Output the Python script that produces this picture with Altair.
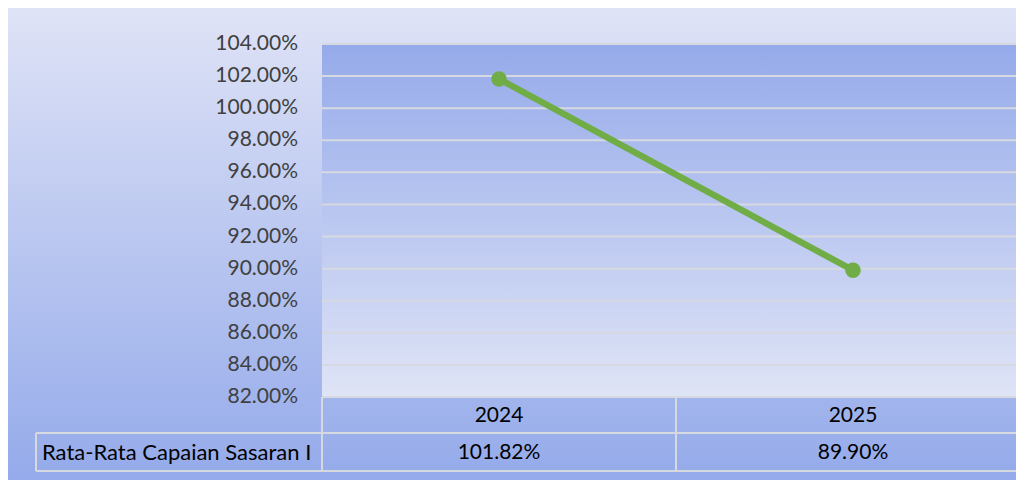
import altair as alt
import pandas as pd

# ---- data ----
years = ["2024", "2025"]
values = [1.0182, 0.8990]
series_name = "Rata-Rata Capaian Sasaran I"
y_ticks = [0.82, 0.84, 0.86, 0.88, 0.90, 0.92, 0.94, 0.96, 0.98, 1.00, 1.02, 1.04]

df = pd.DataFrame({"year": years, "value": values})
grid_df = pd.DataFrame({"tick": y_ticks})
one = pd.DataFrame({"name": [series_name]})

FONT = "Lato"
FS = 21
W, H = 694, 353
PAD_L, PAD_T = 314, 36
TOTAL_H = 472
GREEN = "#70ad47"
GRID = "#d7d9e0"

x_scale = alt.Scale(type="point", domain=years, range=[0, 708], padding=0.5)
y_scale = alt.Scale(domain=[0.82, 1.04], nice=False, zero=False)

outer_grad = alt.Gradient(
    gradient="linear",
    stops=[alt.GradientStop(color="#dfe3f6", offset=0),
           alt.GradientStop(color="#94aaea", offset=1)],
    x1=0, x2=0, y1=0, y2=1)
plot_grad = alt.Gradient(
    gradient="linear",
    stops=[alt.GradientStop(color="#95aaea", offset=0),
           alt.GradientStop(color="#dfe4f6", offset=1)],
    x1=0, x2=0, y1=0, y2=1)

outer_bg = alt.Chart(one).mark_rect(fill=outer_grad).encode(
    x=alt.value(-PAD_L), x2=alt.value(W),
    y=alt.value(-PAD_T), y2=alt.value(TOTAL_H - PAD_T))

plot_bg = alt.Chart(one).mark_rect(fill=plot_grad).encode(
    x=alt.value(0), x2=alt.value(W), y=alt.value(0), y2=alt.value(H))

grid = alt.Chart(grid_df).mark_rule(color=GRID, strokeWidth=2).encode(
    y=alt.Y("tick:Q", scale=y_scale, axis=None),
    x=alt.value(0), x2=alt.value(W))

tick_lbl = alt.Chart(grid_df).mark_text(font=FONT, fontSize=FS, color="#404040",
                                        align="right", baseline="middle").encode(
    y=alt.Y("tick:Q", scale=y_scale, axis=None),
    x=alt.value(-24), text=alt.Text("tick:Q", format=".2%"))

line = alt.Chart(df).mark_line(color=GREEN, strokeWidth=6.5).encode(
    x=alt.X("year:N", scale=x_scale, axis=None),
    y=alt.Y("value:Q", scale=y_scale, axis=None))

pts = alt.Chart(df).mark_circle(color=GREEN, opacity=1, size=240).encode(
    x=alt.X("year:N", scale=x_scale, axis=None),
    y=alt.Y("value:Q", scale=y_scale, axis=None))

# data table borders
border = "#d7d9e0"
hl = alt.Chart(one).mark_rule(color=border, strokeWidth=2).encode(
    x=alt.value(-286), x2=alt.value(W), y=alt.value(389))
hl2 = alt.Chart(one).mark_rule(color=border, strokeWidth=2).encode(
    x=alt.value(-286), x2=alt.value(W), y=alt.value(427))
vl1 = alt.Chart(one).mark_rule(color=border, strokeWidth=2).encode(
    x=alt.value(0), y=alt.value(H), y2=alt.value(427))
vl2 = alt.Chart(one).mark_rule(color=border, strokeWidth=2).encode(
    x=alt.value(354), y=alt.value(H), y2=alt.value(427))
vl3 = alt.Chart(one).mark_rule(color=border, strokeWidth=2).encode(
    x=alt.value(-286), y=alt.value(389), y2=alt.value(427))

year_txt = alt.Chart(df).mark_text(font=FONT, fontSize=FS, color="#000000",
                                   baseline="middle").encode(
    x=alt.X("year:N", scale=x_scale, axis=None),
    y=alt.value(372), text="year:N")

val_txt = alt.Chart(df).mark_text(font=FONT, fontSize=FS, color="#000000",
                                  baseline="middle").encode(
    x=alt.X("year:N", scale=x_scale, axis=None),
    y=alt.value(409), text=alt.Text("value:Q", format=".2%"))

name_txt = alt.Chart(one).mark_text(font=FONT, fontSize=22, color="#000000",
                                    baseline="middle", align="left").encode(
    x=alt.value(-280), y=alt.value(409), text="name:N")

chart = alt.layer(
    outer_bg, plot_bg, grid, tick_lbl, line, pts,
    hl, hl2, vl1, vl2, vl3, year_txt, val_txt, name_txt
).properties(
    width=W, height=H,
    autosize=alt.AutoSizeParams(type="none"),
    padding={"left": PAD_L, "top": PAD_T, "right": 0, "bottom": TOTAL_H - PAD_T - H},
).configure_view(stroke=None)

chart.save("out.html", embed_options={"renderer": "svg", "actions": False})
